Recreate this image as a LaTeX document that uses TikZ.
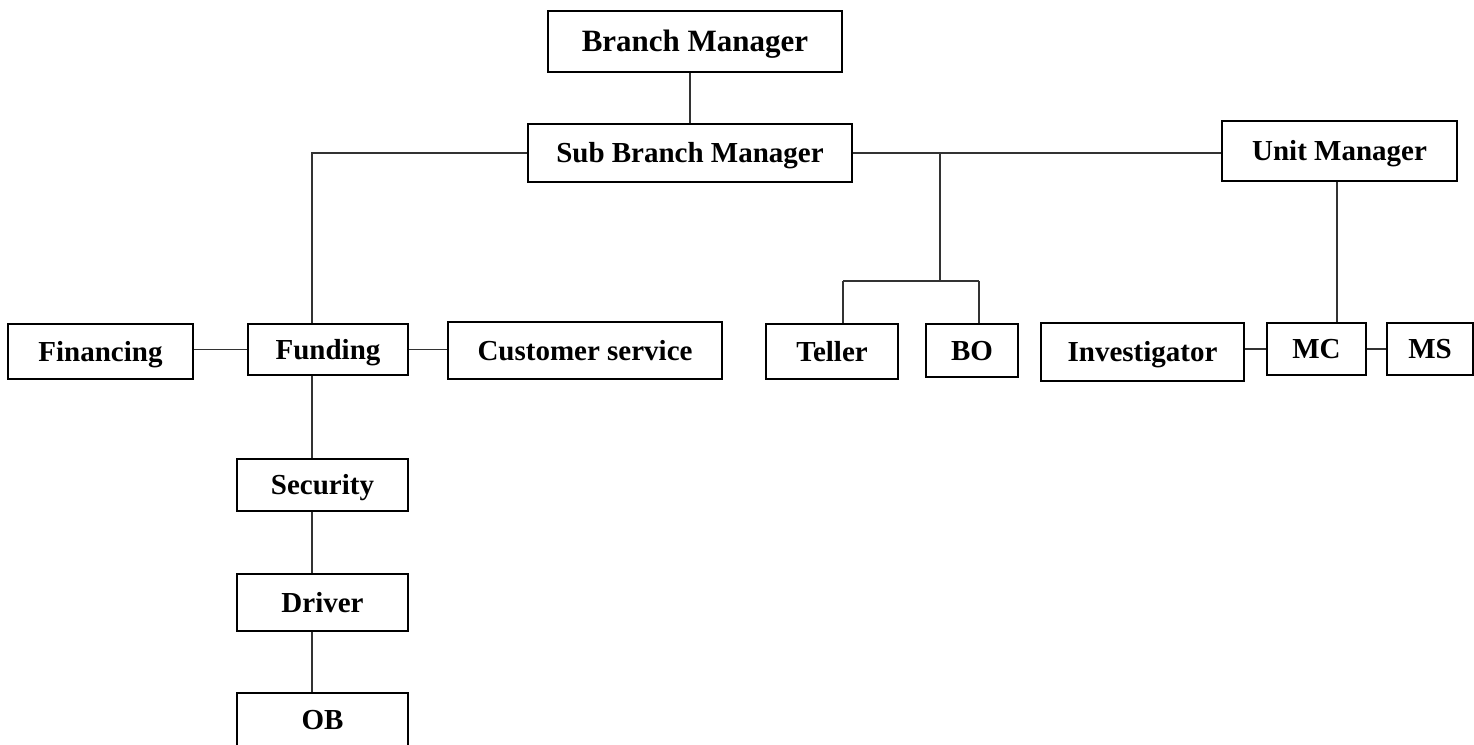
\documentclass[tikz,border=0pt]{standalone}
\usepackage{fontspec}
\setmainfont{Liberation Serif}
\begin{document}
\begin{tikzpicture}[x=1pt,y=-1pt,
  box/.style={draw=black,line width=1.2pt,rectangle,inner sep=0pt,
    font=\fontsize{29}{34}\selectfont\bfseries,text height=19.2pt,text depth=0pt},
  conn/.style={draw=black!80,line width=1.2pt}]
\useasboundingbox (0,0) rectangle (1474,744);
% nodes
\node[box,minimum width=294pt,minimum height=61pt,font=\fontsize{31}{36}\selectfont\bfseries,text height=20.5pt] (bm) at (695,41.5) {Branch Manager};
\node[box,minimum width=324pt,minimum height=58pt] (sbm) at (690,153) {Sub Branch Manager};
\node[box,minimum width=235pt,minimum height=60pt] (um) at (1339.5,151) {Unit Manager};
\node[box,minimum width=185pt,minimum height=55pt] (fin) at (100.5,351.5) {Financing};
\node[box,minimum width=160pt,minimum height=51pt] (fund) at (328,349.5) {Funding};
\node[box,minimum width=274pt,minimum height=57pt] (cs) at (585,350.5) {Customer service};
\node[box,minimum width=132pt,minimum height=55pt] (teller) at (832,351.5) {Teller};
\node[box,minimum width=92pt,minimum height=53pt] (bo) at (972,350.5) {BO};
\node[box,minimum width=203pt,minimum height=58pt] (inv) at (1142.5,352) {Investigator};
\node[box,minimum width=99pt,minimum height=52pt] (mc) at (1316.5,349) {MC};
\node[box,minimum width=86pt,minimum height=52pt] (ms) at (1430,349) {MS};
\node[box,minimum width=171pt,minimum height=52pt] (sec) at (322.5,485) {Security};
\node[box,minimum width=171pt,minimum height=57pt] (drv) at (322.5,602.5) {Driver};
\node[box,minimum width=171pt,minimum height=54pt] (ob) at (322.5,720) {OB};
% helper coordinates
\coordinate (fx) at (312,0);
\coordinate (jx) at (940,0);
\coordinate (tj) at (843,281);
\coordinate (bj) at (979,281);
\coordinate (mx) at (1337,0);
% connectors
\draw[conn] (sbm.north) -- (sbm.north |- bm.south);
\draw[conn] (sbm.west) -| (fx |- fund.north);
\draw[conn] (fx |- fund.south) -- (fx |- sec.north);
\draw[conn] (fx |- sec.south) -- (fx |- drv.north);
\draw[conn] (fx |- drv.south) -- (fx |- ob.north);
\draw[conn] (fund.west) -- (fund.west -| fin.east);
\draw[conn] (fund.east) -- (fund.east -| cs.west);
\draw[conn] (sbm.east) -- (sbm.east -| um.west);
\draw[conn] (jx |- sbm.east) -- (jx |- tj);
\draw[conn] (tj) -- (bj);
\draw[conn] (tj) -- (tj |- teller.north);
\draw[conn] (bj) -- (bj |- bo.north);
\draw[conn] (mx |- um.south) -- (mx |- mc.north);
\draw[conn] (mc.west) -- (mc.west -| inv.east);
\draw[conn] (mc.east) -- (mc.east -| ms.west);
\end{tikzpicture}
\end{document}
